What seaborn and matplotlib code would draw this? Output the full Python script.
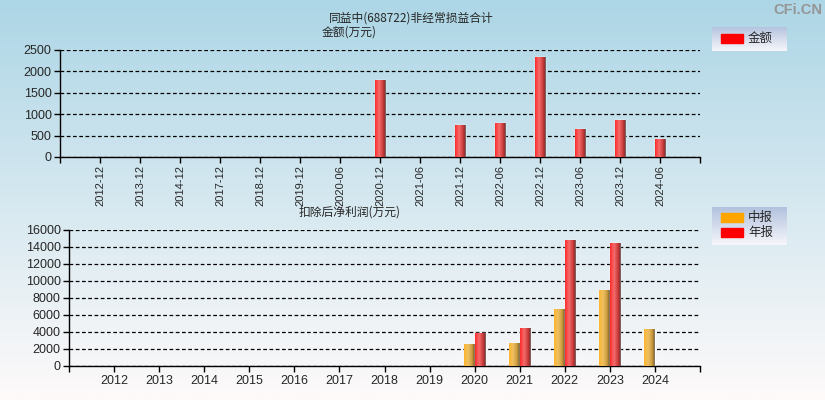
import numpy as np
import pandas as pd
import seaborn as sns
import matplotlib.pyplot as plt
from matplotlib.colors import LinearSegmentedColormap
from matplotlib.patches import Rectangle

# data
top_cats = ['2012-12', '2013-12', '2014-12', '2017-12', '2018-12', '2019-12', '2020-06',
            '2020-12', '2021-06', '2021-12', '2022-06', '2022-12', '2023-06', '2023-12', '2024-06']
top_vals = [np.nan] * 7 + [1805, np.nan, 750, 797, 2343, 656, 867, 422]

years = [str(y) for y in range(2012, 2025)]
mid_vals = [np.nan] * 8 + [2550, 2670, 6670, 8906, 4318]
annual_vals = [np.nan] * 8 + [3847, 4435, 14788, 14435, np.nan]

top_df = pd.DataFrame({'period': top_cats, 'value': top_vals}).dropna()
bot_df = pd.concat([
    pd.DataFrame({'year': years, 'value': mid_vals, 'type': '中报'}),
    pd.DataFrame({'year': years, 'value': annual_vals, 'type': '年报'}),
]).dropna()

sns.set_style('white')
plt.rcParams['font.family'] = ['Liberation Sans', 'Noto Sans CJK SC', 'DejaVu Sans']
cjk = ['Noto Sans CJK SC', 'DejaVu Sans']

fig = plt.figure(figsize=(8.25, 4), dpi=100)

# background gradient
bg = fig.add_axes([0, 0, 1, 1], zorder=-10)
top_c = np.array([173, 214, 230]) / 255
bot_c = np.array([254, 250, 250]) / 255
t = np.linspace(0, 1, 256)[:, None]
bg.imshow((top_c * (1 - t) + bot_c * t)[:, None, :], aspect='auto', extent=[0, 1, 0, 1])
bg.axis('off')

red_cmap = LinearSegmentedColormap.from_list(
    'r', [(0, '#FF2A2A'), (0.38, '#F36C6C'), (0.75, '#C93838'), (0.9, '#8E2E2E'), (1, '#7E7E7E')])
org_cmap = LinearSegmentedColormap.from_list(
    'o', [(0, '#FFB52E'), (0.38, '#EEC062'), (0.75, '#C99A3E'), (0.9, '#98702A'), (1, '#7E7E7E')])
grad = np.linspace(0, 1, 64)[None, :]


def shade(ax, container, cmap):
    for p in container:
        h = p.get_height()
        if not np.isfinite(h) or h <= 0:
            continue
        x0 = p.get_x()
        im = ax.imshow(grad, extent=[x0, x0 + p.get_width(), 0, h], aspect='auto',
                       cmap=cmap, zorder=3)
        im.set_clip_path(p)


def style(ax, n, ymax, step, rot):
    ax.set_facecolor('none')
    ax.set_xlim(-1, n)
    ax.set_ylim(0, ymax)
    ax.set_yticks(np.arange(0, ymax + 1, step))
    ax.set_xticks(range(-1, n + 1))
    ax.set_xlabel('')
    ax.set_ylabel('')
    for s in ['top', 'right']:
        ax.spines[s].set_visible(False)
    for s in ['left', 'bottom']:
        ax.spines[s].set_color('black')
        ax.spines[s].set_linewidth(1)
    ax.yaxis.grid(True, color='black', linestyle=(0, (3, 2)), linewidth=0.9)
    ax.set_axisbelow(True)
    ax.tick_params(axis='both', length=4, width=1, color='black', direction='out',
                   bottom=True, left=True, labelsize=9, pad=2)
    ax.tick_params(axis='x', labelrotation=rot)


# top chart
ax1 = fig.add_axes([60 / 825, 243 / 400, 640 / 825, 107 / 400])
sns.barplot(data=top_df, x='period', y='value', order=top_cats, color='red',
            width=0.27, ax=ax1, legend=False, zorder=2)
shade(ax1, ax1.containers[0], red_cmap)
style(ax1, len(top_cats), 2500, 500, 90)
ax1.set_xticks(range(-1, len(top_cats) + 1))
ax1.set_xticklabels([''] + top_cats + [''], fontsize=8)

# bottom chart
ax2 = fig.add_axes([69 / 825, 34.3 / 400, 631 / 825, 136 / 400])
sns.barplot(data=bot_df, x='year', y='value', hue='type', order=years,
            hue_order=['中报', '年报'], palette={'中报': 'orange', '年报': 'red'},
            width=0.47, dodge=True, ax=ax2, legend=False, zorder=2)
shade(ax2, ax2.containers[0], org_cmap)
shade(ax2, ax2.containers[1], red_cmap)
style(ax2, len(years), 16000, 2000, 0)
ax2.set_xticks(range(-1, len(years) + 1))
ax2.set_xticklabels([''] + years + [''], fontsize=9)
ax2.tick_params(axis='x', pad=3)

# titles
fig.text(411 / 825, 1 - 18 / 400, '同益中(688722)非经常损益合计', ha='center', va='center',
         fontsize=8.5, family=cjk)
fig.text(349 / 825, 1 - 32.5 / 400, '金额(万元)', ha='center', va='center', fontsize=8.5, family=cjk)
fig.text(350 / 825, 1 - 212.5 / 400, '扣除后净利润(万元)', ha='center', va='center',
         fontsize=8.5, family=cjk)
fig.text(822 / 825, 1 - 10 / 400, 'CFi.CN', ha='right', va='center', fontsize=10.5,
         fontweight='bold', color='#959595', family=['Liberation Sans'])


def legend_box(x, y, w, h, items):
    lg = fig.add_axes([x / 825, 1 - (y + h) / 400, w / 825, h / 400], zorder=5)
    tc = np.array([178, 194, 222]) / 255
    bc = np.array([246, 246, 250]) / 255
    tt = np.linspace(0, 1, 64)[:, None]
    lg.imshow((tc * (1 - tt) + bc * tt)[:, None, :], aspect='auto', extent=[0, w, h, 0])
    lg.set_xlim(0, w)
    lg.set_ylim(h, 0)
    for yy, lab, col in items:
        lg.add_patch(Rectangle((9, yy - y - 4.5), 22, 9, color=col, zorder=3))
        lg.text(36, yy - y, lab, va='center', ha='left', fontsize=9, family=cjk)
    lg.axis('off')


legend_box(712, 27, 75, 24, [(38.5, '金额', 'red')])
legend_box(712, 207, 75, 38, [(217.5, '中报', 'orange'), (232, '年报', 'red')])

fig.savefig('out.png', dpi=100)
